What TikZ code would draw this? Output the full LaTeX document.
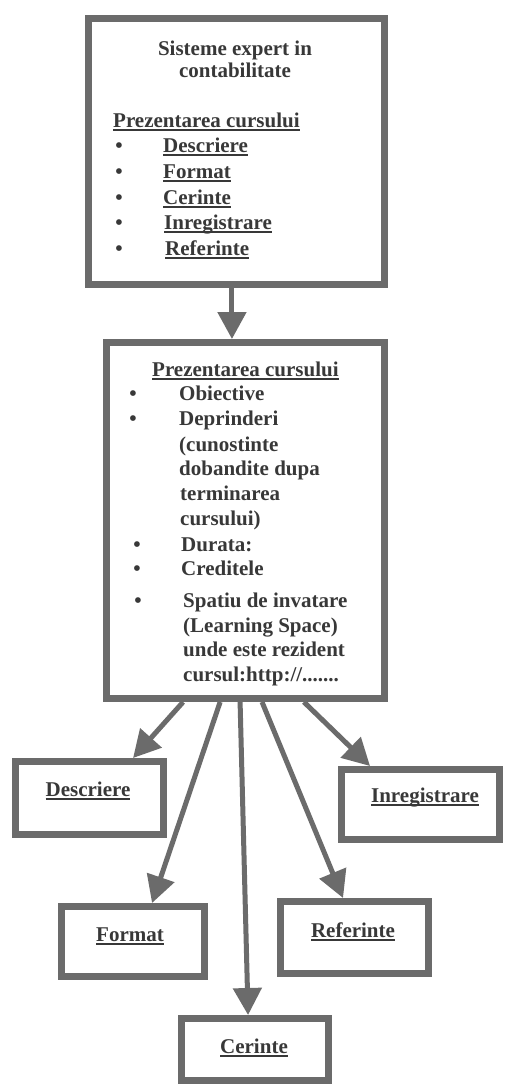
\documentclass[tikz,border=0pt]{standalone}
\usepackage{fontspec}
\setmainfont{Liberation Serif}
\usetikzlibrary{arrows.meta,calc}
\definecolor{linegray}{HTML}{6B6B6B}
\definecolor{inkgray}{HTML}{383838}
\newcommand{\ulbar}[1]{\leavevmode\setbox0\hbox{#1}\rlap{\rule[-4pt]{\wd0}{1.8pt}}\box0}
\tikzset{
  boxframe/.style={draw=linegray, line width=7pt, rectangle, inner sep=0pt, fill=white},
  txt/.style={font=\fontsize{21}{25}\selectfont\bfseries, text=inkgray, inner sep=0pt},
  bul/.style={txt, anchor=base},
  conn/.style={draw=linegray, line width=5pt, -{Triangle[width=28pt,length=27pt]}},
}
\begin{document}
\begin{tikzpicture}[x=1pt,y=-1pt]
\useasboundingbox (0,0) rectangle (505,1088);
\fill[white] (0,0) rectangle (505,1088);

% boxes
\node[boxframe, minimum width=296pt, minimum height=266pt] (box1) at (236.5,151.5) {};
\node[boxframe, minimum width=278pt, minimum height=356pt] (box2) at (245.5,520.5) {};
\node[boxframe, minimum width=148pt, minimum height=73pt] (desc) at (89.5,798) {};
\node[boxframe, minimum width=158pt, minimum height=70pt] (inreg) at (420.5,804.5) {};
\node[boxframe, minimum width=143pt, minimum height=70pt] (form) at (133,941.5) {};
\node[boxframe, minimum width=148pt, minimum height=72pt] (refer) at (354.5,937.5) {};
\node[boxframe, minimum width=147pt, minimum height=62pt] (cer) at (255,1049.5) {};

% box 1 text
\node[txt, anchor=base] (t1a) at (235,55) {Sisteme expert in};
\node[txt, anchor=base] (t1b) at (235,77) {contabilitate};
\node[txt, anchor=base west] (t1c) at (113,127) {\ulbar{Prezentarea cursului}};
\node[bul] (b11) at (119,152) {\textbullet};
\node[bul] (b12) at (119,178) {\textbullet};
\node[bul] (b13) at (119,204) {\textbullet};
\node[bul] (b14) at (119,229) {\textbullet};
\node[bul] (b15) at (119,255) {\textbullet};
\node[txt, anchor=base west] (i11) at (163,152) {\ulbar{Descriere}};
\node[txt, anchor=base west] (i12) at (163,178) {\ulbar{Format}};
\node[txt, anchor=base west] (i13) at (163,204) {\ulbar{Cerinte}};
\node[txt, anchor=base west] (i14) at (164,229) {\ulbar{Inregistrare}};
\node[txt, anchor=base west] (i15) at (165,255) {\ulbar{Referinte}};

% box 2 text
\node[txt, anchor=base west] (t2h) at (152,376) {\ulbar{Prezentarea cursului}};
\node[bul] (b21) at (133,400) {\textbullet};
\node[bul] (b22) at (133,425) {\textbullet};
\node[bul] (b23) at (137,551) {\textbullet};
\node[bul] (b24) at (137,575) {\textbullet};
\node[bul] (b25) at (138,607) {\textbullet};
\node[txt, anchor=base west] (l1) at (179,400) {Obiective};
\node[txt, anchor=base west] (l2) at (179,425) {Deprinderi};
\node[txt, anchor=base west] (l3) at (179,451) {(cunostinte};
\node[txt, anchor=base west] (l4) at (179,475) {dobandite dupa};
\node[txt, anchor=base west] (l5) at (180,500) {terminarea};
\node[txt, anchor=base west] (l6) at (180,525) {cursului)};
\node[txt, anchor=base west] (l7) at (181,551) {Durata:};
\node[txt, anchor=base west] (l8) at (181,575) {Creditele};
\node[txt, anchor=base west] (l9) at (183,607) {Spatiu de invatare};
\node[txt, anchor=base west] (l10) at (183,632) {(Learning Space)};
\node[txt, anchor=base west] (l11) at (183,656) {unde este rezident};
\node[txt, anchor=base west] (l12) at (183,681) {cursul:http://.......};

% lower box labels
\node[txt, anchor=base] (ldesc) at (88,796) {\ulbar{Descriere}};
\node[txt, anchor=base] (linreg) at (425,802) {\ulbar{Inregistrare}};
\node[txt, anchor=base] (lform) at (130,941) {\ulbar{Format}};
\node[txt, anchor=base] (lrefer) at (353,937) {\ulbar{Referinte}};
\node[txt, anchor=base] (lcer) at (254,1053) {\ulbar{Cerinte}};

% connectors
\coordinate (a1) at ($(box1.south west)!0.485!(box1.south east)$);
\draw[conn] (a1) -- (a1 |- box2.north);

\coordinate (s1) at ($(box2.south west)!0.281!(box2.south east)$);
\coordinate (s2) at ($(box2.south west)!0.411!(box2.south east)$);
\coordinate (s3) at ($(box2.south west)!0.481!(box2.south east)$);
\coordinate (s4) at ($(box2.south west)!0.558!(box2.south east)$);
\coordinate (s5) at ($(box2.south west)!0.705!(box2.south east)$);
\coordinate (e1) at ($(desc.north west)!0.781!(desc.north east)$);
\coordinate (e2) at ($(form.north west)!0.627!(form.north east)$);
\coordinate (e3) at ($(cer.north west)!0.455!(cer.north east)$);
\coordinate (e4) at ($(refer.north west)!0.426!(refer.north east)$);
\coordinate (e5) at ($(inreg.north west)!0.194!(inreg.north east)$);
\draw[conn] (s1) -- (e1);
\draw[conn] (s2) -- (e2);
\draw[conn] (s3) -- (e3);
\draw[conn] (s4) -- (e4);
\draw[conn] (s5) -- (e5);
\end{tikzpicture}
\end{document}
